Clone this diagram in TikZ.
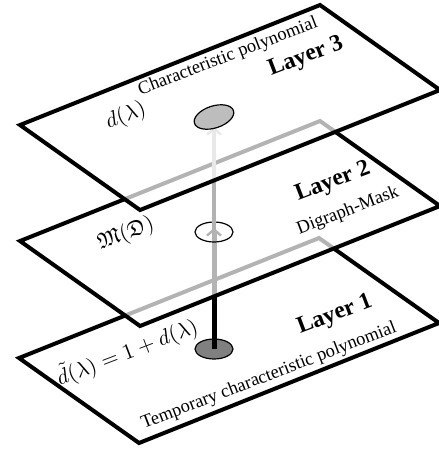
\documentclass[tikz,border=0pt]{standalone}
\usepackage{amssymb}
\usepackage{fontspec}
\setmainfont{Liberation Serif}
\usetikzlibrary{shapes.geometric,arrows.meta,positioning}

\begin{document}
\begin{tikzpicture}[
      x=0.5pt, y=0.5pt,
      layer/.style={
        draw=black,
        line width=2pt,
        fill=white
      },
      glass/.style={
        layer,
        fill opacity=0.7
      },
      caption/.style={
        rotate=21,
        inner sep=0pt,
        font=\fontsize{9.2}{11}\selectfont
      },
      title/.style={
        rotate=21,
        inner sep=0pt,
        font=\fontsize{11.8}{14}\selectfont\bfseries
      },
      formula/.style={
        rotate=21,
        inner sep=0pt,
        font=\fontsize{11}{13}\selectfont
      },
      vertex/.style={
        ellipse,
        draw,
        line width=0.6pt,
        minimum width=19pt,
        minimum height=10pt,
        inner sep=0pt
      },
      lift/.style={
        line width=2.5pt,
        -{Straight Barb[length=3pt,width=7pt,line width=1.2pt]}
      }
    ]
    \useasboundingbox (0,0) rectangle (439,-451);

    \coordinate (L3) at (20,-125);
    \coordinate (L2) at (20,-241);
    \coordinate (L1) at (19,-358);
    \coordinate (m2) at (214,-232);
    \coordinate (m3) at (214,-117);

    % Layer 1
    \draw[layer] (L1) -- ++(300,120) -- ++(120,-85) -- ++(-300,-120) -- cycle;
    \node[vertex, fill=black!50] (e1) at (214,-349) {};
    \node[title] (layer1) at (335,-315) {Layer 1};
    \node[caption] (temp) at (269,-376) {Temporary characteristic polynomial};
    \node[formula] (dtilde) at (127,-352) {$\tilde{d}(\lambda) = 1 + d(\lambda)$};
    \draw[lift] (e1.center) -- ([yshift=2pt]m2);

    % Layer 2
    \draw[glass] (L2) -- ++(300,120) -- ++(120,-85) -- ++(-300,-120) -- cycle;
    \node[vertex] (e2) at (m2) {};
    \node[title] (layer2) at (333,-182) {Layer 2};
    \node[caption] (mask) at (348,-211) {Digraph-Mask};
    \node[formula] (frak) at (126,-234) {$\mathfrak{M}(\mathfrak{D})$};
    \draw[lift, line width=2pt, draw=black!30] (e2.center) -- ([yshift=-5pt]m3);

    % Layer 3
    \draw[glass] (L3) -- ++(300,120) -- ++(120,-85) -- ++(-300,-120) -- cycle;
    \node[vertex, fill=black!26, minimum width=20.5pt, minimum height=11pt, rotate=18] (e3) at (m3) {};
    \node[title] (layer3) at (306,-57) {Layer 3};
    \node[caption] (charpoly) at (228,-57) {Characteristic polynomial};
    \node[formula] (dlam) at (126,-116) {$d(\lambda)$};
  \end{tikzpicture}
\end{document}
